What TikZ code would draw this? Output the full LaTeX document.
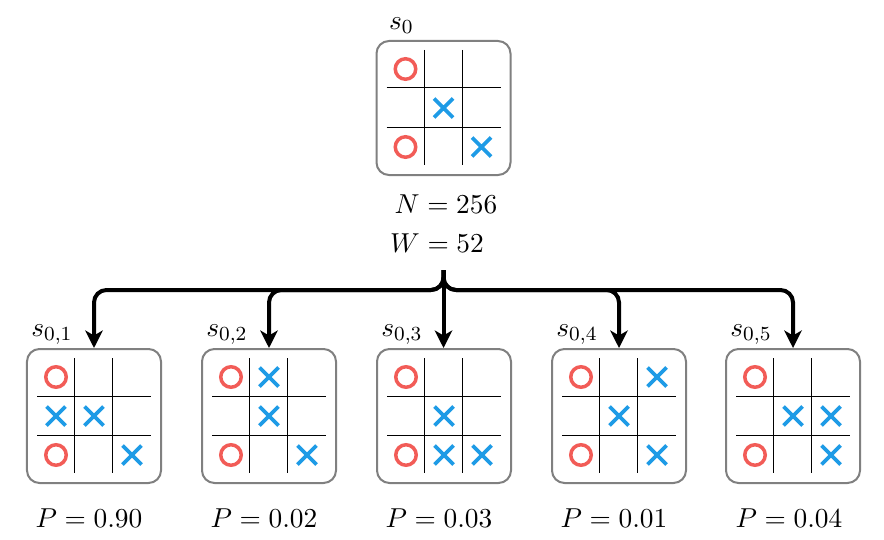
\documentclass[tikz,border=0pt]{standalone}
\usetikzlibrary{arrows.meta,calc}
\definecolor{ored}{HTML}{F25C57}
\definecolor{xblue}{HTML}{1E9BE6}
\definecolor{boxgray}{HTML}{808080}
\tikzset{
 boardbox/.style={draw=boxgray, line width=0.8pt, rounded corners=5pt, minimum width=53.6pt, minimum height=53.6pt, inner sep=0pt},
 gridline/.style={black, line width=0.4pt},
 omark/.style={draw=ored, line width=1.4pt},
 xmark/.style={draw=xblue, line width=1.5pt},
 conn/.style={line width=1.6pt, rounded corners=5pt, -{Stealth[length=7pt,width=7pt,inset=2pt]}},
 statelabel/.style={anchor=base, inner sep=0pt},
}
\newcommand\tttO[2]{\draw[omark] (#1*38,#2*39) circle[radius=4.1pt];}
\newcommand\tttX[2]{\draw[xmark] (#1*38-9.5,#2*39-9.5) -- (#1*38+9.5,#2*39+9.5) (#1*38-9.5,#2*39+9.5) -- (#1*38+9.5,#2*39-9.5);}
\newcommand\tttboard[4]{%
 \node[boardbox] (#1) at (#2,#3) {};
 \begin{scope}[shift={(#1.center)}]
  \draw[gridline] (-19.5,-58) -- (-19.5,57) (18.5,-58) -- (18.5,57) (-57,-20) -- (57,-20) (-57,19) -- (57,19);
  #4
 \end{scope}}
\begin{document}
\begin{tikzpicture}[x=0.4pt,y=-0.4pt,font=\fontsize{11}{13}\selectfont]
\useasboundingbox (0,0) rectangle (884,539);
\tttboard{s0}{443.5}{108}{\tttO{-1}{-1}\tttX{0}{0}\tttO{-1}{1}\tttX{1}{1}}
\tttboard{c1}{94}{416}{\tttO{-1}{-1}\tttX{-1}{0}\tttX{0}{0}\tttO{-1}{1}\tttX{1}{1}}
\tttboard{c2}{269}{416}{\tttO{-1}{-1}\tttX{0}{-1}\tttX{0}{0}\tttO{-1}{1}\tttX{1}{1}}
\tttboard{c3}{444}{416}{\tttO{-1}{-1}\tttX{0}{0}\tttO{-1}{1}\tttX{0}{1}\tttX{1}{1}}
\tttboard{c4}{619}{416}{\tttO{-1}{-1}\tttX{1}{-1}\tttX{0}{0}\tttO{-1}{1}\tttX{1}{1}}
\tttboard{c5}{793}{416}{\tttO{-1}{-1}\tttX{0}{0}\tttX{1}{0}\tttO{-1}{1}\tttX{1}{1}}
\node[statelabel] (l0) at ($(s0.north west)+(26,-10.5)$) {$s_0$};
\node[statelabel] (l1) at ($(c1.north west)+(26,-12)$) {$s_{0,1}$};
\node[statelabel] (l2) at ($(c2.north west)+(26,-12)$) {$s_{0,2}$};
\node[statelabel] (l3) at ($(c3.north west)+(26,-12)$) {$s_{0,3}$};
\node[statelabel] (l4) at ($(c4.north west)+(26,-12)$) {$s_{0,4}$};
\node[statelabel] (l5) at ($(c5.north west)+(26,-12)$) {$s_{0,5}$};
\node[statelabel] (N) at (446,213) {$N=256$};
\node[statelabel] (W) at (437,252) {$W=52$};
\node[statelabel] (p1) at (89,527) {$P=0.90$};
\node[statelabel] (p2) at (264,527) {$P=0.02$};
\node[statelabel] (p3) at (439,527) {$P=0.03$};
\node[statelabel] (p4) at (614,527) {$P=0.01$};
\node[statelabel] (p5) at (789,527) {$P=0.04$};
\coordinate (fork) at (443.5,270);
\draw[conn] (fork) -- ++(0,20) -| (c1.north);
\draw[conn] (fork) -- ++(0,20) -| (c2.north);
\draw[conn] (fork) -- (fork |- c3.north);
\draw[conn] (fork) -- ++(0,20) -| (c4.north);
\draw[conn] (fork) -- ++(0,20) -| (c5.north);
\end{tikzpicture}
\end{document}
